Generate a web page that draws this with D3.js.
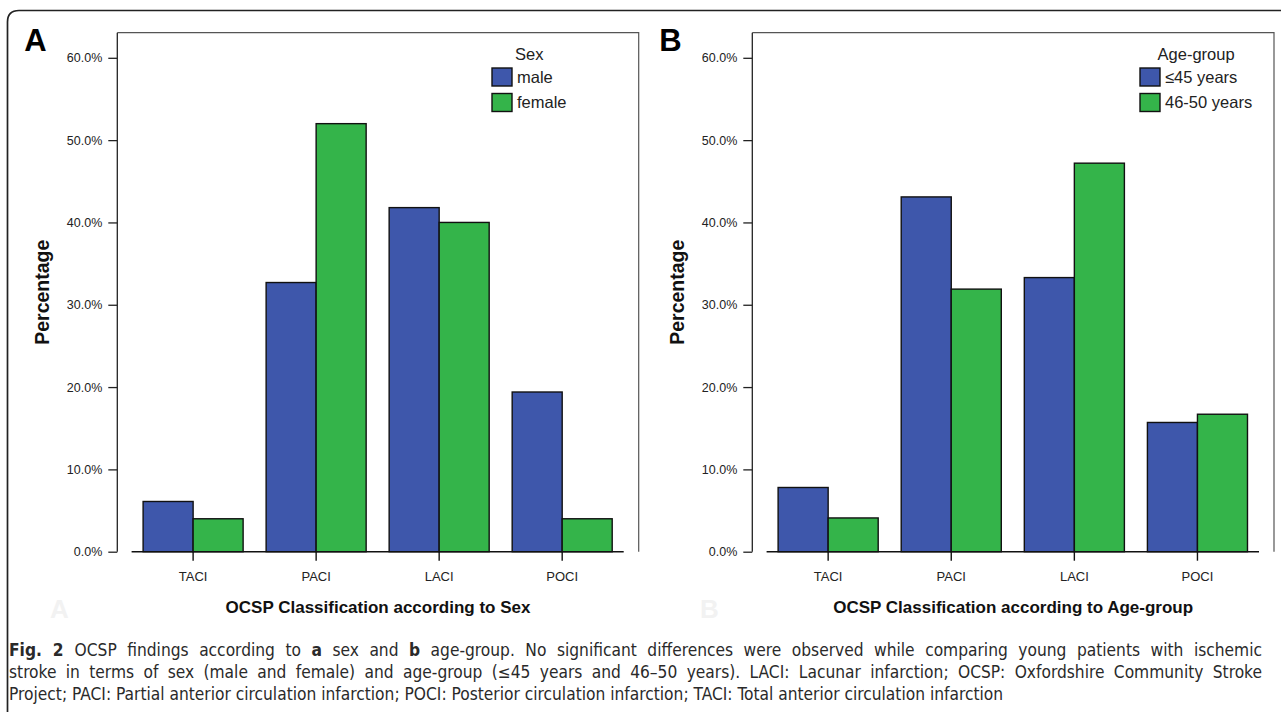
<!DOCTYPE html>
<html>
<head>
<meta charset="utf-8">
<script src="https://cdn.jsdelivr.net/npm/d3@7"></script>
<style>
  body { margin: 0; background: #fff; }
  svg { display: block; }
</style>
</head>
<body>
<svg id="chart" width="1281" height="712"></svg>
<script>
// data
const categories = ["TACI", "PACI", "LACI", "POCI"];
const yTicks = [0, 10, 20, 30, 40, 50, 60];

const sexSeries = ["male", "female"];
const maleValues = [6.1, 32.7, 41.8, 19.4];
const femaleValues = [4.0, 52.0, 40.0, 4.0];

const ageSeries = ["≤45 years", "46-50 years"];
const youngValues = [7.8, 43.1, 33.3, 15.7];
const olderValues = [4.1, 31.9, 47.2, 16.7];

const captionLines = [
  "OCSP findings according to ",
  "stroke in terms of sex (male and female) and age-group (≤45 years and 46–50 years). LACI: Lacunar infarction; OCSP: Oxfordshire Community Stroke",
  "Project; PACI: Partial anterior circulation infarction; POCI: Posterior circulation infarction; TACI: Total anterior circulation infarction"
];

const colors = ["#3e57ab", "#34b44a"];
const font = "'Liberation Sans', Arial, sans-serif";

const svg = d3.select("#chart");

// outer frame, rounded top-left corner, runs off the right and bottom
svg.append("path")
  .attr("d", "M7.5,730 V22 Q7.5,10.5 19,10.5 H1300")
  .attr("fill", "none")
  .attr("stroke", "#222")
  .attr("stroke-width", 1.7);

const plotTop = 32.7, base = 551.7;
const y = d3.scaleLinear().domain([0, 63.05]).range([base, plotTop]);

const panels = [
  { letter: "A", left: 117.3, right: 638.7, title: "Sex", series: sexSeries,
    values: [maleValues, femaleValues], xTitle: "OCSP Classification according to Sex", legendX: 492 },
  { letter: "B", left: 752.3, right: 1274, title: "Age-group", series: ageSeries,
    values: [youngValues, olderValues], xTitle: "OCSP Classification according to Age-group", legendX: 1140 }
];

panels.forEach(p => {
  const g = svg.append("g");

  const x = d3.scaleBand()
    .domain(categories)
    .range([p.left + 14.3, p.right - 15])
    .paddingInner(0.187)
    .paddingOuter(0.0935);
  const xs = d3.scaleBand().domain(p.series).range([0, x.bandwidth()]);

  // plot box (top and right), gray
  g.append("path")
    .attr("d", `M${p.left},${plotTop} H${p.right} V${base}`)
    .attr("fill", "none")
    .attr("stroke", "#555")
    .attr("stroke-width", 1.2);

  // y axis
  const yAxis = g.append("g")
    .attr("transform", `translate(${p.left},0)`)
    .call(d3.axisLeft(y).tickValues(yTicks).tickSize(9).tickPadding(6)
      .tickFormat(d => d.toFixed(1) + "%"));
  yAxis.select(".domain").remove();
  yAxis.selectAll("line").attr("stroke", "#222").attr("stroke-width", 1.3);
  yAxis.selectAll("text").attr("font-family", font).attr("font-size", 12.5).attr("fill", "#222");
  g.append("line")
    .attr("x1", p.left).attr("x2", p.left)
    .attr("y1", plotTop).attr("y2", base)
    .attr("stroke", "#222").attr("stroke-width", 1.3);

  // bars
  const rows = [];
  categories.forEach((c, i) => p.series.forEach((s, j) => rows.push({ c, s, j, v: p.values[j][i] })));
  g.selectAll("rect.bar")
    .data(rows)
    .join("rect")
    .attr("class", "bar")
    .attr("x", d => x(d.c) + xs(d.s))
    .attr("y", d => y(d.v))
    .attr("width", xs.bandwidth())
    .attr("height", d => base - y(d.v))
    .attr("fill", d => colors[d.j])
    .attr("stroke", "#111")
    .attr("stroke-width", 1.4);

  // baseline
  g.append("line")
    .attr("x1", x.range()[0]).attr("x2", x.range()[1])
    .attr("y1", base).attr("y2", base)
    .attr("stroke", "#111").attr("stroke-width", 1.4);

  // x axis
  const xAxis = g.append("g")
    .attr("transform", `translate(0,${base})`)
    .call(d3.axisBottom(x).tickSize(9).tickPadding(11));
  xAxis.select(".domain").remove();
  xAxis.selectAll("line").attr("stroke", "#111").attr("stroke-width", 1.4);
  xAxis.selectAll("text").attr("font-family", font).attr("font-size", 13).attr("fill", "#222");

  // axis titles
  g.append("text")
    .attr("transform", `translate(${p.left - 75},${(plotTop + base) / 2}) rotate(-90)`)
    .attr("text-anchor", "middle")
    .attr("dy", "0.35em")
    .attr("font-family", font).attr("font-weight", "bold").attr("font-size", 19.5)
    .attr("fill", "#111")
    .text("Percentage");

  g.append("text")
    .attr("x", (p.left + p.right) / 2)
    .attr("y", 613)
    .attr("text-anchor", "middle")
    .attr("font-family", font).attr("font-weight", "bold").attr("font-size", 17)
    .attr("fill", "#111")
    .text(p.xTitle);

  // panel letter
  g.append("text")
    .attr("x", p.left - 93)
    .attr("y", 51)
    .attr("font-family", font).attr("font-weight", "bold").attr("font-size", 31)
    .attr("fill", "#000")
    .text(p.letter);

  // legend
  const lg = g.append("g").attr("transform", `translate(${p.legendX},0)`);
  const items = lg.selectAll("g").data(p.series).join("g")
    .attr("transform", (d, i) => `translate(0,${68 + i * 25.5})`);
  items.append("rect")
    .attr("width", 20).attr("height", 18)
    .attr("fill", (d, i) => colors[i])
    .attr("stroke", "#111").attr("stroke-width", 1.4);
  items.append("text")
    .attr("x", 25).attr("y", 9).attr("dy", "0.35em")
    .attr("font-family", font).attr("font-size", 16.5).attr("fill", "#222")
    .text(d => d);
  const w = lg.node().getBBox().width;
  lg.append("text")
    .attr("x", w / 2).attr("y", 60)
    .attr("text-anchor", "middle")
    .attr("font-family", font).attr("font-size", 16.5).attr("fill", "#222")
    .text(p.title);
});

// faint ghost letters left over under the axis titles
[["A", 50], ["B", 700]].forEach(([t, gx]) => {
  svg.append("text").attr("x", gx).attr("y", 618)
    .attr("font-family", font).attr("font-weight", "bold").attr("font-size", 26)
    .attr("fill", "#f2f2f2").text(t);
});

// caption: condensed type; the ragged last line sets the squeeze,
// the first two lines are justified with word spacing
const capFont = "'Liberation Sans Narrow', 'DejaVu Sans Condensed', 'Open Sans', sans-serif";
const cap = svg.append("g").attr("font-family", capFont).attr("font-size", 17).attr("fill", "#2a2a2a");

const l1 = cap.append("text").attr("x", 0).attr("y", 656);
l1.append("tspan").attr("font-weight", "bold").text("Fig. 2 ");
l1.append("tspan").text(captionLines[0]);
l1.append("tspan").attr("font-weight", "bold").text("a");
l1.append("tspan").text(" sex and ");
l1.append("tspan").attr("font-weight", "bold").text("b");
l1.append("tspan").text(" age-group. No significant differences were observed while comparing young patients with ischemic");
const l2 = cap.append("text").attr("x", 0).attr("y", 678).text(captionLines[1]);
const l3 = cap.append("text").attr("x", 0).attr("y", 700).text(captionLines[2]);

const k = 995 / l3.node().getComputedTextLength();
cap.attr("transform", `translate(9,0) scale(${k},1)`);
[l1, l2].forEach(t => {
  const natural = t.node().getComputedTextLength();
  const spaces = (t.text().match(/ /g) || []).length;
  t.style("word-spacing", Math.max(0, (1253 / k - natural) / spaces) + "px");
});
</script>
</body>
</html>
